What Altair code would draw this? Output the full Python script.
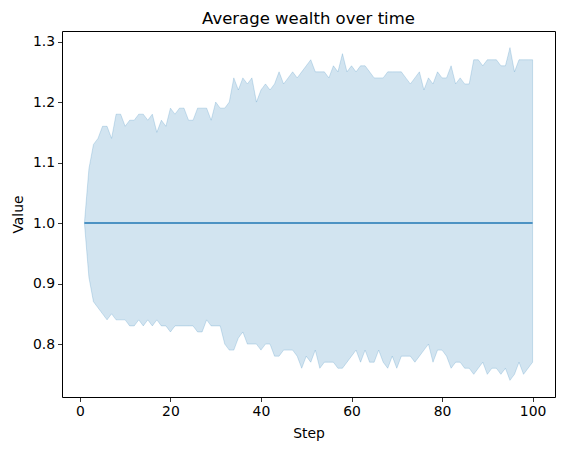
import altair as alt
import pandas as pd

steps = list(range(1, 101))

upper = [
    1.00, 1.09, 1.13, 1.14, 1.16, 1.16, 1.14, 1.18, 1.18, 1.16,
    1.17, 1.17, 1.18, 1.18, 1.17, 1.18, 1.15, 1.17, 1.16, 1.19,
    1.18, 1.19, 1.19, 1.17, 1.17, 1.19, 1.19, 1.19, 1.17, 1.20,
    1.19, 1.19, 1.20, 1.24, 1.22, 1.24, 1.23, 1.24, 1.20, 1.22,
    1.23, 1.22, 1.23, 1.25, 1.23, 1.24, 1.25, 1.24, 1.25, 1.26,
    1.27, 1.25, 1.25, 1.25, 1.24, 1.26, 1.25, 1.28, 1.25, 1.26,
    1.25, 1.26, 1.26, 1.25, 1.24, 1.24, 1.24, 1.25, 1.25, 1.25,
    1.25, 1.24, 1.23, 1.24, 1.25, 1.22, 1.24, 1.23, 1.25, 1.24,
    1.24, 1.26, 1.23, 1.24, 1.23, 1.23, 1.27, 1.27, 1.26, 1.27,
    1.27, 1.27, 1.26, 1.26, 1.29, 1.25, 1.27, 1.27, 1.27, 1.27,
]

lower = [
    1.00, 0.91, 0.87, 0.86, 0.85, 0.84, 0.85, 0.84, 0.84, 0.84,
    0.83, 0.83, 0.84, 0.83, 0.84, 0.83, 0.84, 0.83, 0.83, 0.82,
    0.83, 0.83, 0.83, 0.83, 0.83, 0.82, 0.82, 0.84, 0.83, 0.83,
    0.83, 0.80, 0.79, 0.79, 0.81, 0.82, 0.80, 0.80, 0.80, 0.79,
    0.80, 0.80, 0.78, 0.78, 0.79, 0.79, 0.79, 0.78, 0.76, 0.78,
    0.77, 0.79, 0.76, 0.77, 0.77, 0.77, 0.76, 0.76, 0.77, 0.78,
    0.79, 0.77, 0.79, 0.77, 0.77, 0.79, 0.77, 0.76, 0.78, 0.76,
    0.78, 0.78, 0.78, 0.77, 0.78, 0.79, 0.80, 0.77, 0.79, 0.79,
    0.78, 0.76, 0.77, 0.77, 0.76, 0.76, 0.75, 0.76, 0.77, 0.75,
    0.76, 0.76, 0.75, 0.76, 0.74, 0.75, 0.77, 0.75, 0.76, 0.77,
]

mean = [1.0] * 100

x_ticks = [0, 20, 40, 60, 80, 100]
y_ticks = [0.8, 0.9, 1.0, 1.1, 1.2, 1.3]

df = pd.DataFrame({"Step": steps, "upper": upper, "lower": lower, "mean": mean})

FONT = "DejaVu Sans"
BLUE = "#1f77b4"

x_scale = alt.Scale(domain=[-3.95, 104.95], nice=False, zero=False)
y_scale = alt.Scale(domain=[0.7125, 1.3175], nice=False, zero=False)

x_enc = alt.X("Step:Q", scale=x_scale,
              axis=alt.Axis(values=x_ticks, format="d", title="Step", titlePadding=8))

band = alt.Chart(df).mark_area(
    color=BLUE, fillOpacity=0.2, stroke=BLUE, strokeOpacity=0.2, strokeWidth=1
).encode(
    x=x_enc,
    y=alt.Y("lower:Q", scale=y_scale,
            axis=alt.Axis(values=y_ticks, format=".1f", title="Value", titlePadding=7)),
    y2="upper:Q",
)

line = alt.Chart(df).mark_line(color=BLUE, strokeWidth=1.5).encode(
    x=x_enc,
    y=alt.Y("mean:Q", scale=y_scale),
)

chart = alt.layer(band, line).properties(
    width=493,
    height=366,
    title=alt.TitleParams("Average wealth over time", font=FONT, fontSize=16.5,
                          fontWeight="normal", color="black", anchor="middle", offset=4),
    autosize=alt.AutoSizeParams(type="none"),
    padding={"left": 54, "top": 23, "right": 4, "bottom": 48},
).configure_view(
    stroke="black", strokeWidth=1
).configure_axis(
    domain=False, grid=False, tickColor="black", tickWidth=0.8, tickSize=4.5,
    labelFont=FONT, labelFontSize=13.9, labelColor="black", labelPadding=3,
    titleFont=FONT, titleFontSize=13.9, titleFontWeight="normal", titleColor="black",
)

chart.save("out.html", embed_options={"renderer": "svg", "actions": False})
